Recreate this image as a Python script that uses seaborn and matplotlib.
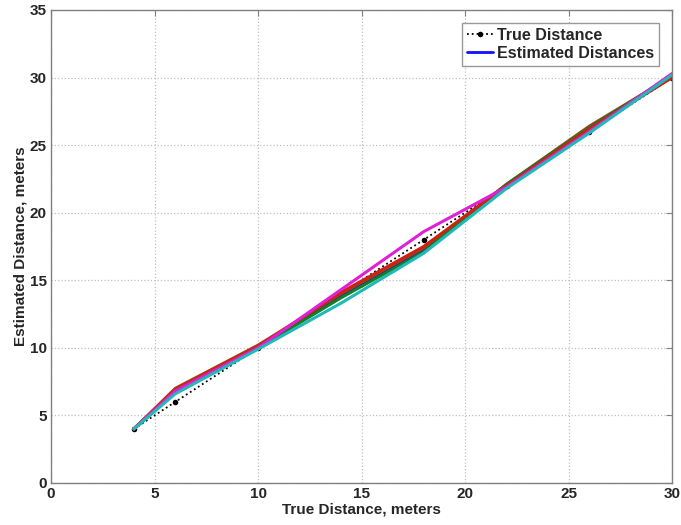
import pandas as pd
import seaborn as sns
from matplotlib import pyplot as plt

true_x = [4, 6, 10, 14, 18, 22, 26, 30]
true_y = [4, 6, 10, 14, 18, 22, 26, 30]

est_blue = [4, 6.7, 10.0, 13.8, 17.3, 22.0, 26.1, 30.2]
est_brown = [4, 7.0, 10.2, 14.0, 17.4, 22.1, 26.4, 30.1]
est_green = [4, 6.8, 10.0, 13.7, 17.1, 22.1, 26.3, 30.1]
est_red = [4, 6.9, 10.1, 14.1, 17.5, 22.0, 26.2, 30.0]
est_magenta = [4, 6.8, 10.0, 14.3, 18.6, 21.9, 26.0, 30.3]
est_cyan = [4, 6.6, 9.9, 13.3, 17.0, 21.8, 25.9, 30.2]

runs = {"blue": est_blue, "brown": est_brown, "green": est_green,
        "red": est_red, "magenta": est_magenta, "cyan": est_cyan}
colors = {"blue": "#1010ff", "brown": "#a0401a", "green": "#108020",
          "red": "#d02010", "magenta": "#e020d8", "cyan": "#20b8b8"}

sns.set_style("whitegrid")
plt.rcParams["font.family"] = ["Liberation Sans", "DejaVu Sans"]
plt.rcParams["font.weight"] = "bold"

fig = plt.figure(figsize=(6.81, 5.25), dpi=100)
ax = fig.add_axes([0.075, 0.08, 0.912, 0.901])

sns.lineplot(x=true_x, y=true_y, ax=ax, color="black", linestyle=":",
             marker="o", markersize=4, markeredgewidth=0, linewidth=1.3,
             label="True Distance", zorder=2)

for name, vals in runs.items():
    df = pd.DataFrame({"x": true_x, "y": vals})
    sns.lineplot(data=df, x="x", y="y", ax=ax, color=colors[name],
                 linewidth=2.2, legend=False, zorder=3)

ax.set_xlim(0, 30)
ax.set_ylim(0, 35)
ax.set_xticks(range(0, 31, 5))
ax.set_yticks(range(0, 36, 5))
ax.grid(True, linestyle=":", color="#c0c0c0", linewidth=0.9)
for s in ax.spines.values():
    s.set_color("#808080")
    s.set_linewidth(1)
ax.tick_params(direction="in", length=4, color="#808080", labelsize=11,
               top=True, right=True, pad=3)
ax.set_xlabel("True Distance, meters", fontsize=11, fontweight="bold", labelpad=1)
ax.set_ylabel("Estimated Distance, meters", fontsize=11, fontweight="bold", labelpad=2)

h_true = ax.lines[0]
h_est = plt.Line2D([], [], color="#1010ff", linewidth=2)
leg = ax.legend([h_true, h_est], ["True Distance", "Estimated Distances"],
                loc="upper right", fontsize=11.5, frameon=True, fancybox=False,
                borderpad=0.3, handlelength=1.6, handletextpad=0.3,
                labelspacing=0.2, borderaxespad=0.8)
leg.get_frame().set_edgecolor("#808080")
leg.get_frame().set_linewidth(1)

fig.savefig("out.png", dpi=100)
